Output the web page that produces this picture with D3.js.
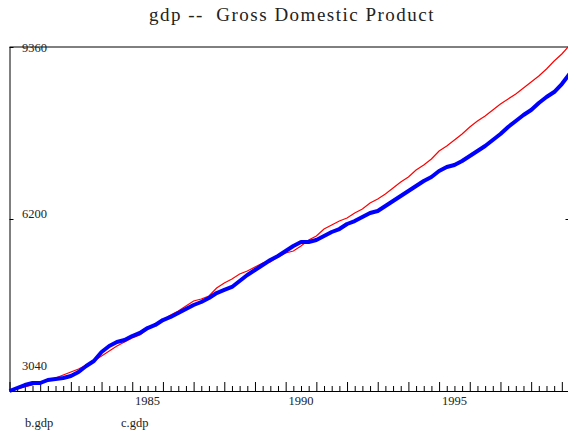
<!DOCTYPE html>
<html>
<head>
<meta charset="utf-8">
<script src="https://cdn.jsdelivr.net/npm/d3@7"></script>
<style>
  body { margin: 0; background: #fff; }
  svg text { font-family: "Liberation Serif", "DejaVu Serif", serif; fill: #222; }
</style>
</head>
<body>
<div id="graf"></div>
<script>
// datos trimestrales, 1981Q1 .. 1999Q2
const inicio = 1981
const seriesNombres = ["b.gdp", "c.gdp"]
const bGdp = [3040, 3077, 3113, 3150, 3205, 3242, 3279, 3334, 3389, 3444, 3518, 3591, 3683, 3775, 3867, 3940,
  4014, 4069, 4179, 4253, 4344, 4436, 4510, 4602, 4693, 4730, 4785, 4932, 5024, 5098, 5190, 5245,
  5318, 5392, 5410, 5502, 5575, 5612, 5704, 5814, 5888, 6016, 6090, 6163, 6218, 6310, 6384, 6494,
  6567, 6659, 6769, 6880, 6972, 7100, 7192, 7303, 7449, 7541, 7651, 7761, 7890, 8000, 8092, 8203,
  8313, 8405, 8496, 8607, 8717, 8827, 8956, 9103, 9231, 9390]
const cGdp = [3040, 3095, 3150, 3187, 3187, 3242, 3260, 3279, 3316, 3389, 3499, 3591, 3757, 3867, 3940, 3977,
  4050, 4106, 4197, 4253, 4344, 4400, 4473, 4547, 4620, 4675, 4749, 4840, 4896, 4951, 5061, 5172,
  5263, 5355, 5447, 5520, 5612, 5704, 5777, 5777, 5814, 5888, 5961, 6016, 6108, 6163, 6237, 6310,
  6347, 6439, 6531, 6623, 6714, 6806, 6898, 6972, 7082, 7155, 7192, 7266, 7357, 7449, 7541, 7651,
  7761, 7890, 8000, 8111, 8203, 8331, 8441, 8533, 8680, 8864]
const yTicks = [3040, 6200, 9360]
const xLabels = [1985, 1990, 1995]
const titulo = "gdp --  Gross Domestic Product"

const anchoTotal = 568
const altoTotal = 436
const margins = { top: 47, right: -1.5, bottom: 45, left: 9.5 }
const ancho = anchoTotal - margins.left - margins.right
const alto = altoTotal - margins.top - margins.bottom

const svg = d3.select("#graf")
  .append("svg")
  .attr("width", anchoTotal)
  .attr("height", altoTotal)

// Escaladores
const x = d3.scaleLinear()
  .domain([inicio, inicio + 18.25])
  .range([0, ancho])
const y = d3.scaleLinear()
  .domain([3040, 9360])
  .range([alto, 0])

const g = svg.append("g")
  .attr("transform", `translate(${margins.left}, ${margins.top})`)

g.append("clipPath").attr("id", "clip")
  .append("rect").attr("x", -3).attr("y", -1).attr("width", ancho + 6).attr("height", alto + 4)

// Titulo
svg.append("text")
  .attr("x", 292)
  .attr("y", 21)
  .attr("text-anchor", "middle")
  .style("font-size", "19px")
  .style("letter-spacing", "1.5px")
  .style("white-space", "pre")
  .text(titulo)

// Ejes
const xAxis = d3.axisBottom(x)
  .tickValues(d3.range(inicio, inicio + 18.26, 0.25))
  .tickSizeInner(0).tickSizeOuter(0).tickFormat("")
const ejeX = g.append("g")
  .attr("transform", `translate(0, ${alto})`)
  .call(xAxis)
ejeX.select(".domain").attr("stroke", "#000")
ejeX.selectAll(".tick line")
  .attr("stroke", "#000")
  .attr("y2", d => Math.abs(d - Math.round(d)) < 0.01 ? -9 : -5)

// etiquetas de los años, centradas en el año
g.selectAll(".anio")
  .data(xLabels)
  .enter()
  .append("text")
  .attr("x", d => x(d + 0.5))
  .attr("y", alto + 14)
  .attr("text-anchor", "middle")
  .style("font-size", "12.5px")
  .text(d => d)

const yAxis = d3.axisLeft(y).tickValues(yTicks).tickSizeInner(-4).tickSizeOuter(0).tickFormat("")
const ejeY = g.append("g").call(yAxis)
ejeY.select(".domain").attr("stroke", "#000")
ejeY.selectAll(".tick line").attr("stroke", "#000")

const yAxisR = d3.axisRight(y).tickValues([6200]).tickSizeInner(-4).tickSizeOuter(0).tickFormat("")
const ejeYR = g.append("g").attr("transform", `translate(${ancho}, 0)`).call(yAxisR)
ejeYR.select(".domain").attr("stroke", "#000")
ejeYR.selectAll(".tick line").attr("stroke", "#000")

// linea superior
g.append("line")
  .attr("x1", 0).attr("x2", ancho)
  .attr("y1", 0).attr("y2", 0)
  .attr("stroke", "#000")

// etiquetas del eje y
const offsetY = { 3040: -21, 6200: -1, 9360: 5 }
g.selectAll(".ylab")
  .data(yTicks)
  .enter()
  .append("text")
  .attr("x", 12.5)
  .attr("y", d => y(d) + offsetY[d])
  .style("font-size", "12.5px")
  .text(d => d)

// Lineas
const linea = d3.line()
  .x((d, i) => x(inicio + i * 0.25))
  .y(d => y(d))

const capa = g.append("g").attr("clip-path", "url(#clip)")
capa.append("path")
  .datum(bGdp)
  .attr("d", linea)
  .attr("fill", "none")
  .attr("stroke", "#ff0000")
  .attr("stroke-width", 1.2)
capa.append("path")
  .datum(cGdp)
  .attr("d", linea)
  .attr("fill", "none")
  .attr("stroke", "#0000ff")
  .attr("stroke-width", 4)
  .attr("stroke-linejoin", "round")

// leyenda
svg.selectAll(".leyenda")
  .data(seriesNombres)
  .enter()
  .append("text")
  .attr("x", (d, i) => 25 + i * 96)
  .attr("y", 427)
  .style("font-size", "12.5px")
  .text(d => d)
</script>
</body>
</html>
